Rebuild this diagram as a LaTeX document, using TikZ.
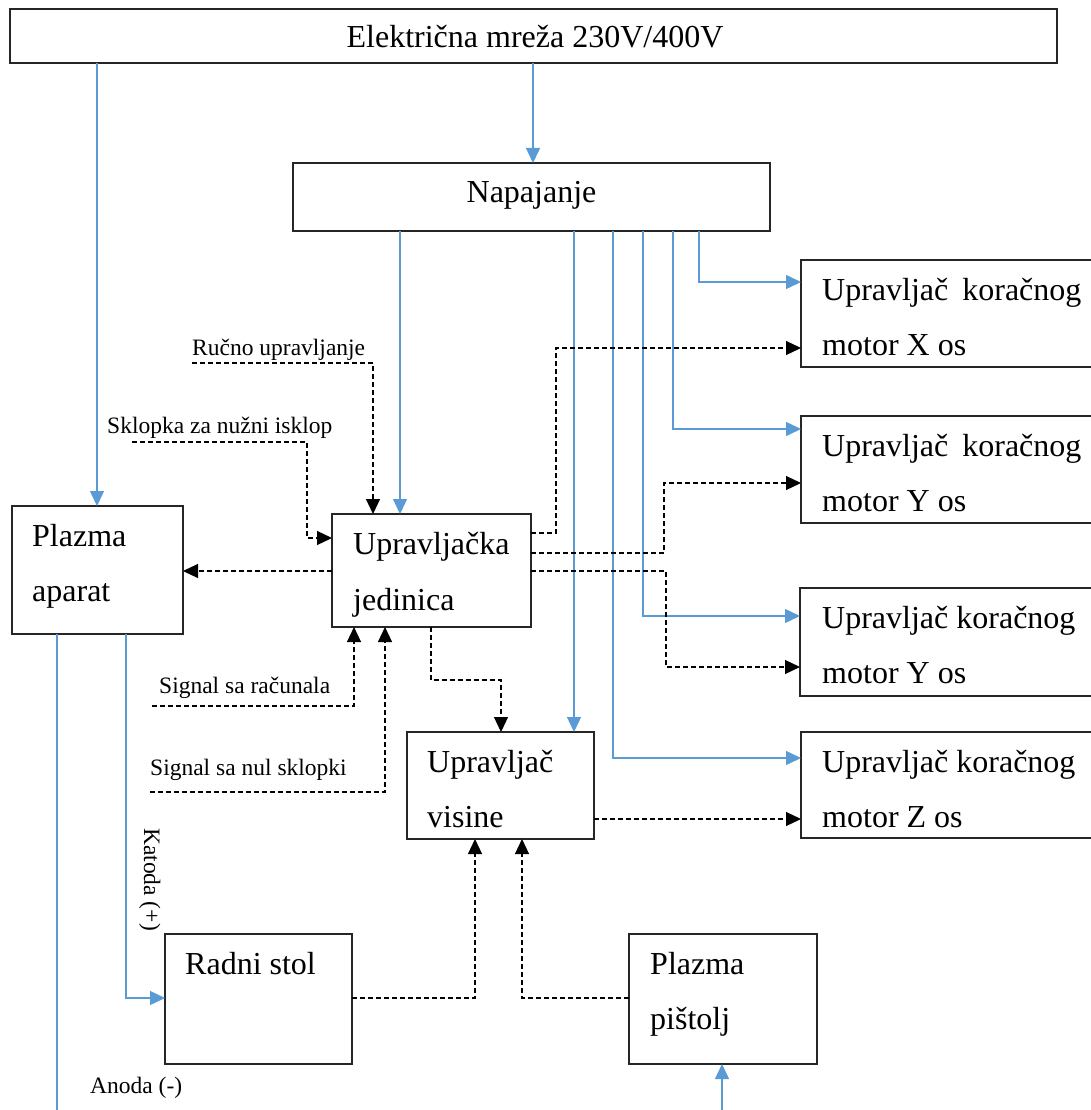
\documentclass[tikz,border=0pt]{standalone}
\usepackage{fontspec}
\setmainfont{Liberation Serif}
\usetikzlibrary{arrows.meta}
\definecolor{pwblue}{RGB}{91,155,213}
\begin{document}
\begin{tikzpicture}[x=1pt,y=-1pt,
  box/.style={draw=black!85, line width=1.4pt, inner sep=0pt, outer sep=0pt},
  pw/.style={draw=pwblue, line width=1.4pt, -{Triangle[length=15pt,width=14pt]}},
  pwline/.style={draw=pwblue, line width=1.4pt},
  sig/.style={draw=black, line width=1.2pt, dash pattern=on 5pt off 3pt, -{Triangle[length=15pt,width=14pt]}},
  big/.style={font=\fontsize{32}{38}\selectfont, inner sep=0pt, anchor=base west},
  small/.style={font=\fontsize{23.5}{28}\selectfont, inner sep=0pt, anchor=base west}]
\useasboundingbox (0,0) rectangle (1091,1110);
\clip (0,0) rectangle (1091,1110);

% boxes
\node[box, minimum width=1047pt, minimum height=54pt] (mreza) at (533.5,36) {};
\node[box, minimum width=477pt, minimum height=68pt] (napaj) at (531.5,197) {};
\node[box, minimum width=171pt, minimum height=128pt] (plazmaA) at (97.5,570) {};
\node[box, minimum width=199pt, minimum height=113pt] (uj) at (431.5,570.5) {};
\node[box, minimum width=187pt, minimum height=107pt] (uv) at (500.5,785.5) {};
\node[box, minimum width=187pt, minimum height=130pt] (rs) at (258.5,999) {};
\node[box, minimum width=188pt, minimum height=130pt] (pp) at (723,999) {};
\node[box, minimum width=299pt, minimum height=107pt] (m1) at (950.5,313.5) {};
\node[box, minimum width=299pt, minimum height=107pt] (m2) at (950.5,469.5) {};
\node[box, minimum width=300pt, minimum height=108pt] (m3) at (950,642) {};
\node[box, minimum width=299pt, minimum height=106pt] (m4) at (950.5,785) {};

% texts
\node[big, anchor=base] (tMreza) at (535,48) {Električna mreža 230V/400V};
\node[big, anchor=base] (tNapaj) at (531.5,203) {Napajanje};
\node[big] (tPA1) at (32,546) {Plazma};
\node[big] (tPA2) at (32,601) {aparat};
\node[big] (tUJ1) at (353,554) {Upravljačka};
\node[big] (tUJ2) at (353,610) {jedinica};
\node[big] (tUV1) at (427,772) {Upravljač};
\node[big] (tUV2) at (427,827) {visine};
\node[big] (tRS) at (185,974) {Radni stol};
\node[big] (tPP1) at (650,974) {Plazma};
\node[big] (tPP2) at (650,1029) {pištolj};
\node[big] (tM1a) at (822,300) {Upravljač\hspace{14pt}koračnog};
\node[big] (tM1b) at (822,355) {motor X os};
\node[big] (tM2a) at (822,456) {Upravljač\hspace{14pt}koračnog};
\node[big] (tM2b) at (822,511) {motor Y os};
\node[big] (tM3a) at (822,628) {Upravljač koračnog};
\node[big] (tM3b) at (822,683) {motor Y os};
\node[big] (tM4a) at (822,772) {Upravljač koračnog};
\node[big] (tM4b) at (822,827) {motor Z os};

\node[small] (lRuc) at (192,355) {Ručno upravljanje};
\node[small] (lSkl) at (107,433) {Sklopka za nužni isklop};
\node[small] (lSR) at (159,693) {Signal sa računala};
\node[small] (lSN) at (150,775) {Signal sa nul sklopki};
\node[small] (lAn) at (90,1093) {Anoda (-)};
\node[small, rotate=-90] (lKat) at (144,828) {Katoda (+)};

% coordinates
\coordinate (k0) at (533,0);
\coordinate (kA) at (97,0);
\coordinate (k1) at (699,282);
\coordinate (k2) at (673,429);
\coordinate (k3) at (643,616);
\coordinate (k4) at (613,758);
\coordinate (k5) at (574,0);
\coordinate (k6) at (400,0);
\coordinate (k7) at (126,998);
\coordinate (anodaEnd) at (57,1115);
\coordinate (ppIn) at (722,1115);

% power (blue) connectors
\draw[pw] (mreza.south -| k0) -- (napaj.north -| k0);
\draw[pw] (mreza.south -| kA) -- (plazmaA.north -| kA);
\draw[pw] (napaj.south -| k6) -- (uj.north -| k6);
\draw[pw] (napaj.south -| k5) -- (uv.north -| k5);
\draw[pw] (napaj.south -| k4) |- (m4.west |- k4);
\draw[pw] (napaj.south -| k3) |- (m3.west |- k3);
\draw[pw] (napaj.south -| k2) |- (m2.west |- k2);
\draw[pw] (napaj.south -| k1) |- (m1.west |- k1);
\draw[pw] (plazmaA.south -| k7) |- (rs.west |- k7);
\draw[pwline] (plazmaA.south -| anodaEnd) -- (anodaEnd);
\draw[pw] (ppIn) -- (pp.south -| ppIn);

% signal (dashed) connectors
\coordinate (rucStart) at (192,363);
\coordinate (k8) at (373,0);
\draw[sig] (rucStart) -| (uj.north -| k8);
\coordinate (sklStart) at (132,442);
\coordinate (k9) at (307,538);
\draw[sig] (sklStart) -| (k9) -- (uj.west |- k9);
\coordinate (kPA) at (0,571);
\draw[sig] (uj.west |- kPA) -- (plazmaA.east |- kPA);
\coordinate (srStart) at (152,706);
\coordinate (k10) at (354,0);
\draw[sig] (srStart) -| (uj.south -| k10);
\coordinate (snStart) at (150,792);
\coordinate (k11) at (385,0);
\draw[sig] (snStart) -| (uj.south -| k11);
\coordinate (k12) at (0,680);
\coordinate (kUJ) at (431,0);
\coordinate (kUV) at (501,0);
\draw[sig] (uj.south -| kUJ) -- (k12 -| kUJ) -| (uv.north -| kUV);
\coordinate (k13) at (556,533);
\coordinate (k14) at (556,348);
\draw[sig] (uj.east |- k13) -- (k13) -- (k14) -- (m1.west |- k14);
\coordinate (k15) at (664,553);
\coordinate (k16) at (664,483);
\draw[sig] (uj.east |- k15) -- (k15) -- (k16) -- (m2.west |- k16);
\coordinate (k17) at (666,571);
\coordinate (k18) at (666,667);
\draw[sig] (uj.east |- k17) -- (k17) -- (k18) -- (m3.west |- k18);
\coordinate (k19) at (0,819);
\draw[sig] (uv.east |- k19) -- (m4.west |- k19);
\coordinate (k20) at (475,998);
\draw[sig] (rs.east |- k20) -| (uv.south -| k20);
\coordinate (k21) at (522,998);
\draw[sig] (pp.west |- k21) -| (uv.south -| k21);
\end{tikzpicture}
\end{document}
